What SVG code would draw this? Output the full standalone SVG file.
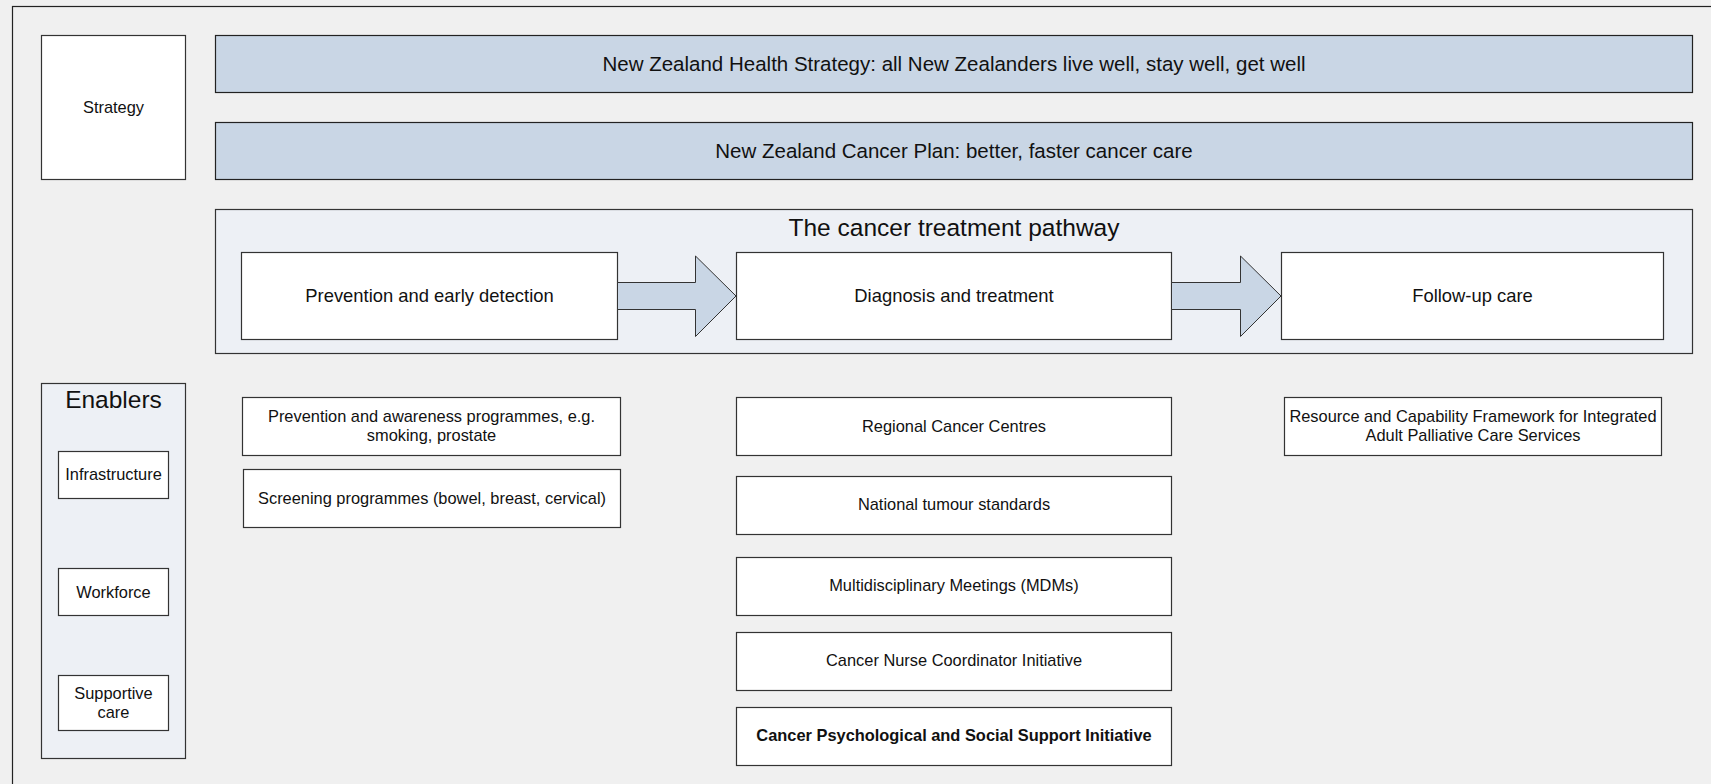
<svg xmlns="http://www.w3.org/2000/svg" width="1711" height="784" viewBox="0 0 1711 784">
<style>
text{font-family:"Liberation Sans",Arial,sans-serif;fill:#111;text-anchor:middle}
.box{fill:#fff;stroke:#333;stroke-width:1.2}
.bar{fill:#c9d6e5;stroke:#222;stroke-width:1.2}
.cont{fill:#edf0f5;stroke:#333;stroke-width:1.2}
.arr{fill:#c9d6e5;stroke:#333;stroke-width:1}
.s16{font-size:16.4px}
.s18{font-size:18.4px}
.s20{font-size:20.5px}
.s24{font-size:24.5px}
</style>
<rect width="1711" height="784" fill="#f0f0f0"/>
<rect x="12.5" y="6.5" width="1720" height="800" fill="#f0f0f0" stroke="#222" stroke-width="1.2"/>

<g id="strategy"><rect class="box" x="41.5" y="35.5" width="144" height="144"/><text class="s16" x="113.5" y="113">Strategy</text></g>
<g id="nz-health-strategy"><rect class="bar" x="215.5" y="35.5" width="1477" height="57"/><text class="s20" x="954" y="71">New Zealand Health Strategy: all New Zealanders live well, stay well, get well</text></g>
<g id="nz-cancer-plan"><rect class="bar" x="215.5" y="122.5" width="1477" height="57"/><text class="s20" x="954" y="158">New Zealand Cancer Plan: better, faster cancer care</text></g>

<g id="pathway"><rect class="cont" x="215.5" y="209.5" width="1477" height="144"/><text class="s24" x="954" y="236">The cancer treatment pathway</text></g>
<g id="prevention"><rect class="box" x="241.5" y="252.5" width="376" height="87"/><text class="s18" x="429.5" y="302">Prevention and early detection</text></g>
<g id="diagnosis"><rect class="box" x="736.5" y="252.5" width="435" height="87"/><text class="s18" x="954" y="302">Diagnosis and treatment</text></g>
<g id="followup"><rect class="box" x="1281.5" y="252.5" width="382" height="87"/><text class="s18" x="1472.5" y="302">Follow-up care</text></g>

<g id="connectors">
<polygon class="arr" points="617.5,282.5 695.5,282.5 695.5,256 736,296 695.5,336.5 695.5,309.5 617.5,309.5"/>
<polygon class="arr" points="1171.5,282.5 1240.5,282.5 1240.5,256 1281,296 1240.5,336.5 1240.5,309.5 1171.5,309.5"/>
</g>

<g id="enablers"><rect class="cont" x="41.5" y="383.5" width="144" height="375"/><text class="s24" x="113.5" y="408">Enablers</text></g>
<g id="infrastructure"><rect class="box" x="58.5" y="451.5" width="110" height="47"/><text class="s16" x="113.5" y="480">Infrastructure</text></g>
<g id="workforce"><rect class="box" x="58.5" y="568.5" width="110" height="47"/><text class="s16" x="113.5" y="598">Workforce</text></g>
<g id="supportive-care"><rect class="box" x="58.5" y="675.5" width="110" height="55"/><text class="s16" x="113.5" y="699">Supportive</text><text class="s16" x="113.5" y="718">care</text></g>

<g id="prevention-awareness"><rect class="box" x="242.5" y="397.5" width="378" height="58"/><text class="s16" x="431.5" y="422">Prevention and awareness programmes, e.g.</text><text class="s16" x="431.5" y="441">smoking, prostate</text></g>
<g id="screening"><rect class="box" x="243.5" y="469.5" width="377" height="58"/><text class="s16" x="432" y="504">Screening programmes (bowel, breast, cervical)</text></g>

<g id="regional-centres"><rect class="box" x="736.5" y="397.5" width="435" height="58"/><text class="s16" x="954" y="432">Regional Cancer Centres</text></g>
<g id="tumour-standards"><rect class="box" x="736.5" y="476.5" width="435" height="58"/><text class="s16" x="954" y="510">National tumour standards</text></g>
<g id="mdms"><rect class="box" x="736.5" y="557.5" width="435" height="58"/><text class="s16" x="954" y="591">Multidisciplinary Meetings (MDMs)</text></g>
<g id="nurse-coordinator"><rect class="box" x="736.5" y="632.5" width="435" height="58"/><text class="s16" x="954" y="666">Cancer Nurse Coordinator Initiative</text></g>
<g id="psych-support"><rect class="box" x="736.5" y="707.5" width="435" height="58"/><text class="s16" x="954" y="741" font-weight="bold">Cancer Psychological and Social Support Initiative</text></g>

<g id="palliative"><rect class="box" x="1284.5" y="397.5" width="377" height="58"/><text class="s16" x="1473" y="422">Resource and Capability Framework for Integrated</text><text class="s16" x="1473" y="441">Adult Palliative Care Services</text></g>
</svg>
